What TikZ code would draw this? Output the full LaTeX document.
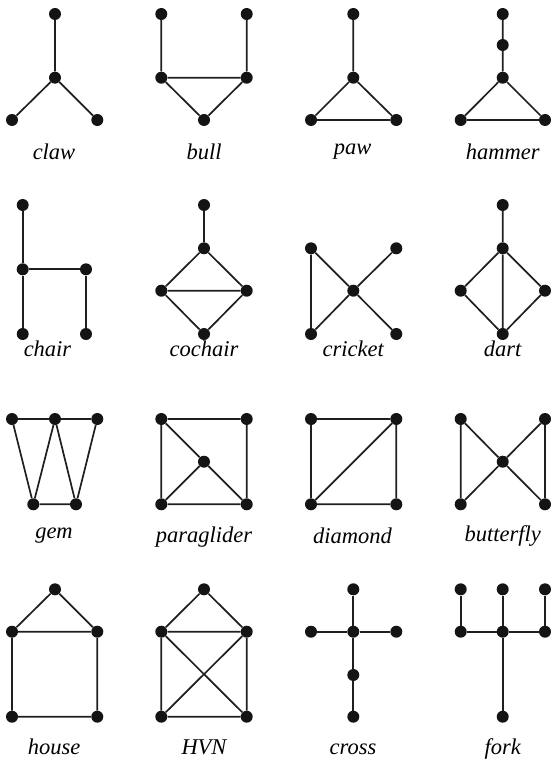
\documentclass[tikz,border=0pt]{standalone}
\usepackage{fontspec}
\setmainfont{Liberation Serif}
\newfontfamily\labfont{Liberation Serif Italic}
\begin{document}
\begin{tikzpicture}[x=1pt,y=-1pt,
  v/.style={circle,fill=black!92,inner sep=0pt,minimum size=12pt},
  e/.style={line width=1.7pt,draw=black!88},
  lab/.style={anchor=base,inner sep=0pt,font=\fontsize{22.5}{26}\labfont}]
\useasboundingbox (0,0) rectangle (550,759);
% claw
\node[v] (c1) at (55,14) {}; \node[v] (c2) at (55,77.7) {};
\node[v] (c3) at (12,120) {}; \node[v] (c4) at (97.3,120) {};
\draw[e] (c1)--(c2) (c2)--(c3) (c2)--(c4);
\node[lab] (lc) at (54,160) {claw};
% bull
\node[v] (b1) at (161.3,14) {}; \node[v] (b2) at (246.7,14) {};
\node[v] (b3) at (161.3,77.7) {}; \node[v] (b4) at (246.7,77.7) {};
\node[v] (b5) at (204,120) {};
\draw[e] (b1)--(b3) (b2)--(b4) (b3)--(b4) (b3)--(b5) (b4)--(b5);
\node[lab] (lb) at (204,160) {bull};
% paw
\node[v] (p1) at (353.3,14) {}; \node[v] (p2) at (353.3,77.7) {};
\node[v] (p3) at (311,120) {}; \node[v] (p4) at (396.3,120) {};
\draw[e] (p1)--(p2) (p2)--(p3) (p2)--(p4) (p3)--(p4);
\node[lab] (lp) at (352.5,155) {paw};
% hammer
\node[v] (h1) at (502.7,14) {}; \node[v] (h2) at (502.7,45) {};
\node[v] (h3) at (502.7,77.7) {};
\node[v] (h4) at (460.7,120) {}; \node[v] (h5) at (545,120) {};
\draw[e] (h1)--(h2) (h2)--(h3) (h3)--(h4) (h3)--(h5) (h4)--(h5);
\node[lab] (lh) at (502.7,160) {hammer};
% chair
\node[v] (ch1) at (22.7,205) {}; \node[v] (ch2) at (22.7,269.3) {};
\node[v] (ch3) at (86,269.3) {}; \node[v] (ch4) at (22.7,334) {};
\node[v] (ch5) at (86,334) {};
\draw[e] (ch1)--(ch2) (ch2)--(ch4) (ch2)--(ch3) (ch3)--(ch5);
\node[lab] (lch) at (47.5,356.7) {chair};
% cochair
\node[v] (co1) at (204,205) {}; \node[v] (co2) at (204,248.3) {};
\node[v] (co3) at (161.3,290.7) {}; \node[v] (co4) at (246.7,290.7) {};
\node[v] (co5) at (204,334) {};
\draw[e] (co1)--(co2) (co2)--(co3) (co2)--(co4) (co3)--(co4) (co3)--(co5) (co4)--(co5);
\node[lab] (lco) at (204,356.7) {cochair};
% cricket
\node[v] (cr1) at (311,248.3) {}; \node[v] (cr2) at (396.3,248.3) {};
\node[v] (cr3) at (353.3,290.7) {};
\node[v] (cr4) at (311,334) {}; \node[v] (cr5) at (396.3,334) {};
\draw[e] (cr1)--(cr4) (cr1)--(cr3) (cr3)--(cr2) (cr3)--(cr4) (cr3)--(cr5);
\node[lab] (lcr) at (353.3,356.7) {cricket};
% dart
\node[v] (d1) at (502.7,205) {}; \node[v] (d2) at (502.7,248.3) {};
\node[v] (d3) at (460.7,290.7) {}; \node[v] (d4) at (545,290.7) {};
\node[v] (d5) at (502.7,334) {};
\draw[e] (d1)--(d2) (d2)--(d3) (d2)--(d4) (d2)--(d5) (d3)--(d5) (d4)--(d5);
\node[lab] (ld) at (502.7,356.7) {dart};
% gem
\node[v] (g1) at (12,419) {}; \node[v] (g2) at (55,419) {};
\node[v] (g3) at (97.3,419) {};
\node[v] (g4) at (33.3,504.3) {}; \node[v] (g5) at (76,504.3) {};
\draw[e] (g1)--(g2) (g2)--(g3) (g1)--(g4) (g4)--(g2) (g2)--(g5) (g5)--(g3) (g4)--(g5);
\node[lab] (lg) at (54,538.3) {gem};
% paraglider
\node[v] (pg1) at (161.3,419) {}; \node[v] (pg2) at (246.7,419) {};
\node[v] (pg3) at (204,461.7) {};
\node[v] (pg4) at (161.3,504.3) {}; \node[v] (pg5) at (246.7,504.3) {};
\draw[e] (pg1)--(pg2) (pg2)--(pg5) (pg5)--(pg4) (pg4)--(pg1) (pg1)--(pg3) (pg3)--(pg5) (pg3)--(pg4);
\node[lab] (lpg) at (204,542.5) {paraglider};
% diamond
\node[v] (dm1) at (311,419) {}; \node[v] (dm2) at (396.3,419) {};
\node[v] (dm3) at (311,504.3) {}; \node[v] (dm4) at (396.3,504.3) {};
\draw[e] (dm1)--(dm2) (dm2)--(dm4) (dm4)--(dm3) (dm3)--(dm1) (dm3)--(dm2);
\node[lab] (ldm) at (352.5,543) {diamond};
% butterfly
\node[v] (bf1) at (460.7,419) {}; \node[v] (bf2) at (545,419) {};
\node[v] (bf3) at (502.7,461.7) {};
\node[v] (bf4) at (460.7,504.3) {}; \node[v] (bf5) at (545,504.3) {};
\draw[e] (bf1)--(bf4) (bf2)--(bf5) (bf1)--(bf3) (bf3)--(bf5) (bf2)--(bf3) (bf3)--(bf4);
\node[lab] (lbf) at (502.7,541.7) {butterfly};
% house
\node[v] (ho1) at (55,589.3) {};
\node[v] (ho2) at (12,631.7) {}; \node[v] (ho3) at (97.3,631.7) {};
\node[v] (ho4) at (12,716.7) {}; \node[v] (ho5) at (97.3,716.7) {};
\draw[e] (ho1)--(ho2) (ho1)--(ho3) (ho2)--(ho3) (ho2)--(ho4) (ho3)--(ho5) (ho4)--(ho5);
\node[lab] (lho) at (54,754.5) {house};
% HVN
\node[v] (hv1) at (204,589.3) {};
\node[v] (hv2) at (161.3,631.7) {}; \node[v] (hv3) at (246.7,631.7) {};
\node[v] (hv4) at (161.3,716.7) {}; \node[v] (hv5) at (246.7,716.7) {};
\draw[e] (hv1)--(hv2) (hv1)--(hv3) (hv2)--(hv3) (hv2)--(hv4) (hv3)--(hv5) (hv4)--(hv5) (hv2)--(hv5) (hv3)--(hv4);
\node[lab] (lhv) at (204,754.5) {HVN};
% cross
\node[v] (x1) at (353.3,589.3) {};
\node[v] (x2) at (311,631.7) {}; \node[v] (x3) at (353.3,631.7) {};
\node[v] (x4) at (396.3,631.7) {};
\node[v] (x5) at (353.3,675) {}; \node[v] (x6) at (353.3,716.7) {};
\draw[e] (x1)--(x3) (x2)--(x3) (x3)--(x4) (x3)--(x5) (x5)--(x6);
\node[lab] (lx) at (353,754.5) {cross};
% fork
\node[v] (f1) at (460.7,589.3) {}; \node[v] (f2) at (502.7,589.3) {};
\node[v] (f3) at (545,589.3) {};
\node[v] (f4) at (460.7,631.7) {}; \node[v] (f5) at (502.7,631.7) {};
\node[v] (f6) at (545,631.7) {};
\node[v] (f7) at (502.7,716.7) {};
\draw[e] (f1)--(f4) (f2)--(f5) (f3)--(f6) (f4)--(f5) (f5)--(f6) (f5)--(f7);
\node[lab] (lf) at (502.7,754.5) {fork};
\end{tikzpicture}
\end{document}
